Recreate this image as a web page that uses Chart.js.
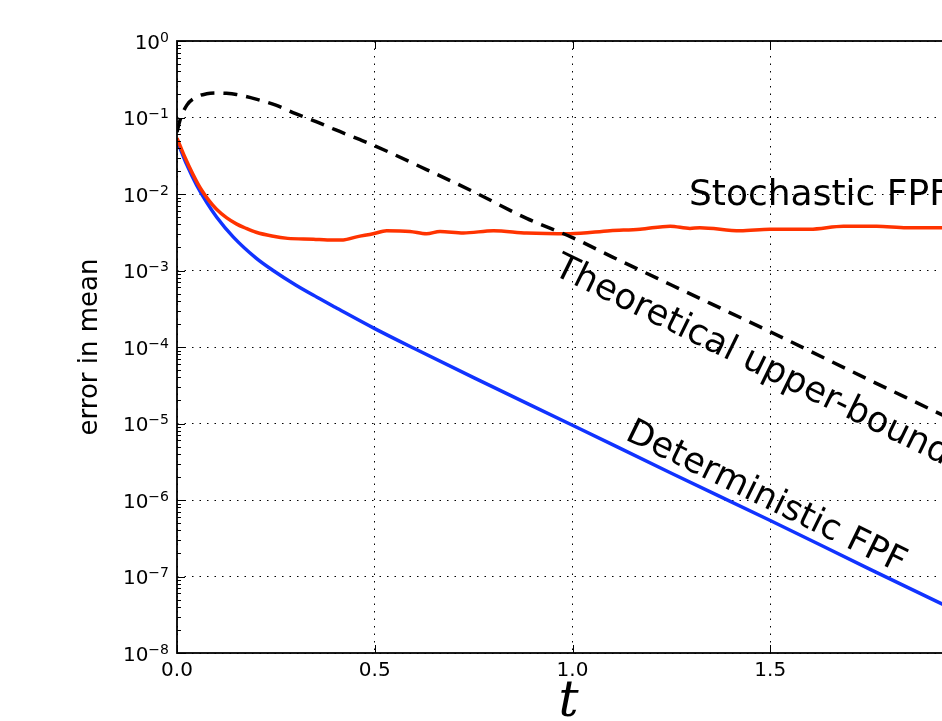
<!DOCTYPE html>
<html>
<head>
<meta charset="utf-8">
<script src="https://cdn.jsdelivr.net/npm/chart.js@4.4.1/dist/chart.umd.min.js"></script>
<style>
    html, body { margin: 0; padding: 0; background: #fff; overflow: hidden; }
    #wrap { width: 1000px; height: 721px; }
</style>
</head>
<body>
<div id="wrap"><canvas id="grafico" width="1000" height="721"></canvas></div>
<script>
// Dados (t, erro na media)
const tUpper = [0, 0.008, 0.025, 0.05, 0.075, 0.1, 0.125, 0.15, 0.2, 0.25, 0.3, 0.35, 0.4, 0.463, 0.5, 0.614, 0.758, 0.884, 1.0, 1.1, 1.25, 1.5, 1.75, 1.92, 2.0];
const errUpper = [6.46e-2, 9.33e-2, 1.45e-1, 1.86e-1, 2.04e-1, 2.09e-1, 2.07e-1, 2.0e-1, 1.74e-1, 1.45e-1, 1.12e-1, 8.91e-2, 6.92e-2, 5.13e-2, 4.27e-2, 2.29e-2, 1.02e-2, 4.79e-3, 2.69e-3, 1.51e-3, 6.46e-4, 1.58e-4, 3.72e-5, 1.41e-5, 8.9e-6];

const tStoch = [0, 0.02, 0.04, 0.06, 0.08, 0.1, 0.125, 0.15, 0.175, 0.2, 0.24, 0.28, 0.345, 0.38, 0.42, 0.454, 0.496, 0.53, 0.589, 0.631, 0.665, 0.724, 0.8, 0.884, 0.994, 1.095, 1.171, 1.247, 1.297, 1.322, 1.424, 1.499, 1.6, 1.685, 1.769, 1.845, 1.934, 2.0];
const errStoch = [5.37e-2, 3.02e-2, 1.82e-2, 1.17e-2, 8.32e-3, 6.31e-3, 4.9e-3, 4.07e-3, 3.55e-3, 3.16e-3, 2.82e-3, 2.63e-3, 2.57e-3, 2.51e-3, 2.51e-3, 2.75e-3, 3.02e-3, 3.31e-3, 3.24e-3, 3.02e-3, 3.24e-3, 3.09e-3, 3.31e-3, 3.09e-3, 3.02e-3, 3.31e-3, 3.47e-3, 3.8e-3, 3.55e-3, 3.63e-3, 3.31e-3, 3.47e-3, 3.47e-3, 3.8e-3, 3.8e-3, 3.63e-3, 3.63e-3, 3.72e-3];

const tDet = [0, 0.025, 0.05, 0.075, 0.1, 0.142, 0.2, 0.243, 0.3, 0.354, 0.4, 0.5, 0.6, 0.75, 1.0, 1.25, 1.5, 1.75, 2.0];
const errDet = [5.01e-2, 2.4e-2, 1.29e-2, 7.76e-3, 5.01e-3, 2.75e-3, 1.45e-3, 1.0e-3, 6.46e-4, 4.47e-4, 3.31e-4, 1.74e-4, 9.55e-5, 3.98e-5, 9.5e-6, 2.24e-6, 5.4e-7, 1.26e-7, 3.0e-8];

const xTicks = [0, 0.5, 1.0, 1.5, 2.0];
const yExpoentes = [0, -1, -2, -3, -4, -5, -6, -7, -8];

const rotulos = ["Stochastic FPF", "Theoretical upper-bound", "Deterministic FPF"];
const tituloY = "error in mean";
const tituloX = "t";

function pontos(ts, vs) {
    return ts.map((t, i) => ({ x: t, y: vs[i] }));
}

function sobrescrito(n) {
    return n < 0 ? "\u2212" + Math.abs(n) : String(n);
}

// Moldura, marcas internas, rotulos do eixo y e textos das curvas
const moldura = {
    id: 'moldura',
    afterDraw(chart) {
        const { ctx, chartArea: a, scales: { x, y } } = chart;
        ctx.save();

        ctx.strokeStyle = '#000';
        ctx.lineWidth = 1;
        ctx.beginPath();
        xTicks.forEach(v => {
            const px = Math.round(x.getPixelForValue(v)) + 0.5;
            ctx.moveTo(px, a.bottom); ctx.lineTo(px, a.bottom - 8);
            ctx.moveTo(px, a.top); ctx.lineTo(px, a.top + 8);
        });
        yExpoentes.forEach(e => {
            const py = Math.round(y.getPixelForValue(Math.pow(10, e))) + 0.5;
            ctx.moveTo(a.left, py); ctx.lineTo(a.left + 8, py);
            ctx.moveTo(a.right, py); ctx.lineTo(a.right - 8, py);
            if (e > -8) {
                for (let m = 2; m <= 9; m++) {
                    const pm = Math.round(y.getPixelForValue(m * Math.pow(10, e - 1))) + 0.5;
                    ctx.moveTo(a.left, pm); ctx.lineTo(a.left + 4, pm);
                    ctx.moveTo(a.right, pm); ctx.lineTo(a.right - 4, pm);
                }
            }
        });
        ctx.stroke();

        ctx.lineWidth = 1.8;
        ctx.strokeRect(a.left, a.top, a.right - a.left, a.bottom - a.top);

        // rotulos 10^n
        ctx.fillStyle = '#000';
        ctx.textAlign = 'right';
        ctx.textBaseline = 'alphabetic';
        yExpoentes.forEach(e => {
            const py = y.getPixelForValue(Math.pow(10, e));
            const exp = sobrescrito(e);
            ctx.font = '14px "DejaVu Sans"';
            const w = ctx.measureText(exp).width;
            ctx.fillText(exp, 169, py + 0.5);
            ctx.font = '20px "DejaVu Sans"';
            ctx.fillText("10", 169 - w, py + 7.5);
        });

        // titulo do eixo y
        ctx.save();
        ctx.translate(97, (a.top + a.bottom) / 2);
        ctx.rotate(-Math.PI / 2);
        ctx.textAlign = 'center';
        ctx.font = '26px "DejaVu Sans"';
        ctx.fillText(tituloY, 0, 0);
        ctx.restore();

        // titulo do eixo x
        ctx.textAlign = 'center';
        ctx.font = 'italic 50px "DejaVu Serif"';
        ctx.fillText(tituloX, (a.left + a.right) / 2 - 4, 716);

        // textos das curvas
        ctx.textAlign = 'left';
        ctx.font = '36px "DejaVu Sans"';
        ctx.fillText(rotulos[0], 689, 205);

        const ang = 26 * Math.PI / 180;
        ctx.font = '35.5px "DejaVu Sans"';
        ctx.save();
        ctx.translate(552, 274);
        ctx.rotate(ang);
        ctx.fillText(rotulos[1], 0, 0);
        ctx.restore();

        ctx.font = '35px "DejaVu Sans"';
        ctx.save();
        ctx.translate(624, 439);
        ctx.rotate(ang);
        ctx.fillText(rotulos[2], 0, 0);
        ctx.restore();

        ctx.restore();
    }
};

const ctx = document.getElementById('grafico');
new Chart(ctx, {
    type: 'line',
    data: {
        datasets: [
            {
                label: rotulos[1],
                data: pontos(tUpper, errUpper),
                borderColor: '#000',
                borderWidth: 3.5,
                borderDash: [14, 9],
                pointRadius: 0,
                cubicInterpolationMode: 'monotone'
            },
            {
                label: rotulos[0],
                data: pontos(tStoch, errStoch),
                borderColor: '#ff3300',
                borderWidth: 3.5,
                pointRadius: 0,
                cubicInterpolationMode: 'monotone'
            },
            {
                label: rotulos[2],
                data: pontos(tDet, errDet),
                borderColor: '#1133ff',
                borderWidth: 3.5,
                pointRadius: 0,
                cubicInterpolationMode: 'monotone'
            }
        ]
    },
    options: {
        responsive: false,
        animation: false,
        devicePixelRatio: 1,
        layout: { padding: { left: 0, top: 41, right: 32, bottom: 0 } },
        plugins: {
            legend: { display: false },
            tooltip: { enabled: false }
        },
        scales: {
            x: {
                type: 'linear',
                min: 0,
                max: 2,
                afterBuildTicks: s => { s.ticks = xTicks.map(v => ({ value: v })); },
                afterFit: s => { s.height = 68; },
                grid: { color: '#000', lineWidth: 1, drawTicks: false },
                border: { display: false, dash: [1.5, 6] },
                ticks: {
                    color: '#000',
                    font: { family: 'DejaVu Sans', size: 20 },
                    padding: 6,
                    maxRotation: 0,
                    autoSkip: false,
                    callback: v => v.toFixed(1)
                }
            },
            y: {
                type: 'logarithmic',
                min: 1e-8,
                max: 1,
                afterBuildTicks: s => { s.ticks = yExpoentes.map(e => ({ value: Math.pow(10, e) })); },
                afterFit: s => { s.width = 177; },
                grid: { color: '#000', lineWidth: 1, drawTicks: false },
                border: { display: false, dash: [1.5, 6] },
                ticks: { display: false }
            }
        }
    },
    plugins: [moldura]
});
</script>
</body>
</html>
